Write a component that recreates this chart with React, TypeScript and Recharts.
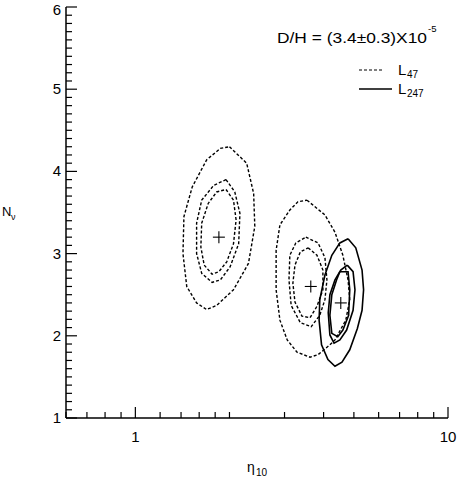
import { ComposedChart, Line, Scatter, XAxis, YAxis } from "recharts";

// tick positions / labels
const xTicks = [0.6, 0.7, 0.8, 0.9, 1, 1.2, 1.4, 1.6, 1.8, 2, 3, 4, 5, 6, 7, 8, 9, 10];
const xLabels = [1, 10];
const yTicks = Array.from({ length: 51 }, (_, i) => Math.round((1 + i * 0.1) * 10) / 10);
const yLabels = [1, 2, 3, 4, 5, 6];

// L47 contours (dashed), [eta10, Nnu]
const leftOuter = [[2.0, 4.3], [2.27, 4.1], [2.39, 3.73], [2.41, 3.33], [2.3, 2.88], [2.06, 2.56], [1.82, 2.37], [1.69, 2.32], [1.57, 2.4], [1.46, 2.6], [1.42, 3.0], [1.43, 3.45], [1.52, 3.81], [1.69, 4.14], [1.87, 4.28]];
const leftMid = [[1.95, 3.9], [2.08, 3.75], [2.16, 3.49], [2.14, 3.12], [2.01, 2.84], [1.87, 2.68], [1.76, 2.65], [1.63, 2.76], [1.57, 3.0], [1.57, 3.37], [1.63, 3.65], [1.78, 3.83]];
const leftInner = [[1.95, 3.78], [2.06, 3.65], [2.1, 3.41], [2.06, 3.12], [1.96, 2.9], [1.85, 2.78], [1.76, 2.75], [1.66, 2.86], [1.62, 3.08], [1.63, 3.37], [1.71, 3.61], [1.82, 3.75]];
const midOuter = [[3.54, 3.65], [4.04, 3.47], [4.35, 3.26], [4.61, 2.98], [4.79, 2.68], [4.85, 2.44], [4.71, 2.19], [4.35, 1.95], [4.19, 1.89], [3.84, 1.77], [3.62, 1.74], [3.29, 1.8], [3.06, 1.95], [2.9, 2.19], [2.82, 2.56], [2.82, 3.04], [2.9, 3.35], [3.12, 3.53], [3.31, 3.63]];
const midMid = [[3.51, 3.2], [3.84, 3.13], [4.04, 2.95], [4.1, 2.68], [4.04, 2.44], [3.89, 2.25], [3.65, 2.11], [3.37, 2.16], [3.15, 2.37], [3.1, 2.68], [3.12, 2.98], [3.26, 3.13]];
const midInner = [[3.57, 3.07], [3.81, 2.98], [3.98, 2.8], [3.98, 2.56], [3.81, 2.36], [3.62, 2.22], [3.41, 2.24], [3.24, 2.41], [3.19, 2.64], [3.24, 2.86], [3.37, 3.02]];

// L247 contours (solid)
const rightOuter = [[4.79, 3.18], [5.07, 3.07], [5.31, 2.8], [5.37, 2.56], [5.31, 2.31], [5.13, 2.09], [4.85, 1.83], [4.58, 1.68], [4.35, 1.63], [4.13, 1.71], [3.94, 1.89], [3.87, 2.19], [3.89, 2.44], [4.04, 2.74], [4.25, 2.98], [4.51, 3.13]];
const rightMid = [[4.76, 2.86], [4.97, 2.78], [5.04, 2.56], [4.97, 2.31], [4.74, 2.07], [4.51, 1.95], [4.32, 1.91], [4.19, 2.01], [4.14, 2.28], [4.19, 2.5], [4.35, 2.68], [4.54, 2.8]];
const rightInner = [[4.51, 2.78], [4.79, 2.78], [4.85, 2.56], [4.81, 2.25], [4.61, 2.07], [4.44, 1.99], [4.25, 2.03], [4.19, 2.25], [4.25, 2.5], [4.4, 2.68]];

// best-fit points
const centers = [[1.85, 3.2], [3.64, 2.6], [4.54, 2.4]];

const closed = (arr: number[][]) => [...arr, arr[0]].map(([x, y]) => ({ x, y }));

const dashed = [leftOuter, leftMid, leftInner, midOuter, midMid, midInner];
const solid = [rightOuter, rightMid, rightInner];

const font = "'Liberation Sans', Arial, Helvetica, sans-serif";

const BottomTick = (p: any) => {
  const v = p.payload.value;
  const len = v === 1 || v === 10 ? 11 : 6;
  return (
    <g>
      <line x1={p.x} x2={p.x} y1={p.y} y2={p.y - len} stroke="#000" strokeWidth={1.2} />
      {xLabels.includes(v) && (
        <text x={p.x} y={p.y + 24} textAnchor="middle" fontSize={15} fontFamily={font} fill="#000">{v}</text>
      )}
    </g>
  );
};
const TopTick = (p: any) => {
  const v = p.payload.value;
  const len = v === 1 || v === 10 ? 11 : 6;
  return <line x1={p.x} x2={p.x} y1={p.y} y2={p.y + len} stroke="#000" strokeWidth={1.2} />;
};
const LeftTick = (p: any) => {
  const v = p.payload.value;
  const major = yLabels.includes(v);
  return (
    <g>
      <line x1={p.x} x2={p.x + (major ? 11 : 6)} y1={p.y} y2={p.y} stroke="#000" strokeWidth={1.2} />
      {major && (
        <text x={p.x - 5} y={p.y + (v === 6 ? 8 : 5)} textAnchor="end" fontSize={15} fontFamily={font} fill="#000">{v}</text>
      )}
    </g>
  );
};
const RightTick = (p: any) => {
  const v = p.payload.value;
  const len = yLabels.includes(v) ? 11 : 6;
  return <line x1={p.x} x2={p.x - len} y1={p.y} y2={p.y} stroke="#000" strokeWidth={1.2} />;
};

const Plus = (p: any) => (
  <g stroke="#000" strokeWidth={1.1}>
    <line x1={p.cx - 6} x2={p.cx + 6} y1={p.cy} y2={p.cy} />
    <line x1={p.cx} x2={p.cx} y1={p.cy - 6} y2={p.cy + 6} />
  </g>
);

export default function App() {
  const axisLine = { stroke: "#000", strokeWidth: 1.5 };
  return (
    <div style={{ position: "absolute", left: 0, top: 0, width: 460, height: 483, background: "#fff" }}>
      <ComposedChart width={460} height={483} margin={{ top: 7, right: 12, bottom: 0, left: 0 }}>
        <XAxis xAxisId="b" dataKey="x" type="number" scale="log" domain={[0.6, 10]} allowDataOverflow
          ticks={xTicks} interval={0} height={65} tickSize={0} tickMargin={0} tickLine={false}
          axisLine={axisLine} tick={<BottomTick />} />
        <XAxis xAxisId="t" orientation="top" dataKey="x" type="number" scale="log" domain={[0.6, 10]} allowDataOverflow
          ticks={xTicks} interval={0} height={0} tickSize={0} tickMargin={0} tickLine={false}
          axisLine={axisLine} tick={<TopTick />} />
        <YAxis yAxisId="l" dataKey="y" type="number" domain={[1, 6]} allowDataOverflow
          ticks={yTicks} interval={0} width={66} tickSize={0} tickMargin={0} tickLine={false}
          axisLine={axisLine} tick={<LeftTick />} />
        <YAxis yAxisId="r" orientation="right" dataKey="y" type="number" domain={[1, 6]} allowDataOverflow
          ticks={yTicks} interval={0} width={0} tickSize={0} tickMargin={0} tickLine={false}
          axisLine={axisLine} tick={<RightTick />} />
        {dashed.map((c, i) => (
          <Line key={"d" + i} xAxisId="b" yAxisId="l" data={closed(c)} dataKey="y" type="linear"
            stroke="#000" strokeWidth={1.4} strokeDasharray="3 2" dot={false} isAnimationActive={false} />
        ))}
        {solid.map((c, i) => (
          <Line key={"s" + i} xAxisId="b" yAxisId="l" data={closed(c)} dataKey="y" type="linear"
            stroke="#000" strokeWidth={1.6} dot={false} isAnimationActive={false} />
        ))}
        <Scatter xAxisId="b" yAxisId="l" data={centers.map(([x, y]) => ({ x, y }))} dataKey="y"
          shape={<Plus />} isAnimationActive={false} />
      </ComposedChart>
      <svg width={460} height={483} style={{ position: "absolute", left: 0, top: 0, pointerEvents: "none" }}
        fontFamily={font} fill="#000">
        <text x={277} y={43} fontSize={14} textLength={150} lengthAdjust="spacingAndGlyphs">D/H = (3.4±0.3)X10</text>
        <text x={428} y={32} fontSize={9.5}>-5</text>
        <line x1={359} x2={384} y1={70} y2={70} stroke="#000" strokeWidth={1.2} strokeDasharray="3 2" />
        <text x={398} y={75} fontSize={15}>L</text>
        <text x={407} y={78} fontSize={10}>47</text>
        <line x1={359} x2={392} y1={89} y2={89} stroke="#000" strokeWidth={1.4} />
        <text x={398} y={94} fontSize={15}>L</text>
        <text x={407} y={97} fontSize={10}>247</text>
        <text x={2} y={216} fontSize={13}>N</text>
        <text x={11} y={220} fontSize={9}>ν</text>
        <text x={247} y={472} fontSize={14}>η</text>
        <text x={256} y={476} fontSize={10}>10</text>
      </svg>
    </div>
  );
}
